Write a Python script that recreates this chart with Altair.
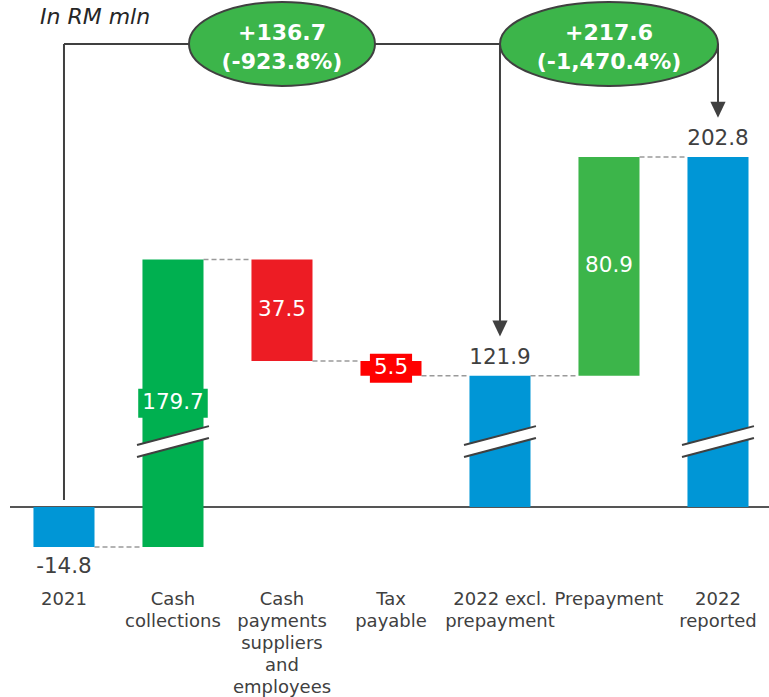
import altair as alt
import pandas as pd

# ---------------- data ----------------
CATEGORIES = ["2021", "Cash collections", "Cash payments suppliers and employees",
              "Tax payable", "2022 excl. prepayment", "Prepayment", "2022 reported"]
AXIS_LABELS = ["2021", "Cash\ncollections", "Cash\npayments\nsuppliers\nand\nemployees",
               "Tax\npayable", "2022 excl.\nprepayment", "Prepayment", "2022\nreported"]
VALUES = [-14.8, 179.7, -37.5, -5.5, 121.9, 80.9, 202.8]
KINDS = ["total", "delta", "delta", "delta", "total", "delta", "total"]
BAR_COLORS = ["#0096D6", "#00B050", "#ED1C24", "#FF0000", "#0096D6", "#3CB54A", "#0096D6"]
LABEL_BOXED = [False, True, False, True, False, False, False]

BRIDGE_FROM = 0
BRIDGE_TO = [4, 6]
BRIDGE_CHANGE = ["+136.7", "+217.6"]
BRIDGE_PCT = ["(-923.8%)", "(-1,470.4%)"]
UNIT_TITLE = "In RM mln"

# ---------------- layout / style ----------------
W, H = 769, 697
X_DOMAIN = [-0.587, 6.468]
Y_DOMAIN = [-70.24, 187.43]
PX_X = W / (X_DOMAIN[1] - X_DOMAIN[0])
PX_Y = H / (Y_DOMAIN[1] - Y_DOMAIN[0])
BAR_HALF = 0.28
BREAK_FROM = 50.0     # values above this are drawn with the axis break
BREAK_CUT = 73.4      # amount removed by the axis break
BREAK_Y = 24.2
BREAK_RISE = 3.5
BREAK_GAP = 2.2
BREAK_HALF = 0.33
TOP_LEVEL = 171.2
ARROW_GAP = 17.5
ELLIPSE_RX = [93, 109]
ELLIPSE_RY = 42
FONT = "DejaVu Sans"
DARK = "#404040"
VAL_SIZE = 21.5


def disp(v):
    return v - BREAK_CUT if v > BREAK_FROM else v


rows = []
running = 0.0
for i, (c, v, k) in enumerate(zip(CATEGORIES, VALUES, KINDS)):
    if k == "total":
        start, end = 0.0, v
        pos = "above" if v >= 0 else "below"
        txt = f"{v:.1f}"
    else:
        start, end = running, running + v
        pos = "inside"
        txt = f"{abs(v):.1f}"
    running = end
    d0, d1 = disp(start), disp(end)
    ndig = sum(ch.isdigit() for ch in txt)
    box_half = (VAL_SIZE * (0.636 * ndig + 0.318) + 8) / 2 / PX_X
    mid = (d0 + d1) / 2
    rows.append(dict(idx=i, cat=c, label=AXIS_LABELS[i], color=BAR_COLORS[i],
                     start=start, end=end,
                     x0=i - BAR_HALF, x1=i + BAR_HALF, y0=d0, y1=d1,
                     ymid=mid, yend=d1, text=txt, pos=pos,
                     boxed=LABEL_BOXED[i],
                     bx0=i - box_half, bx1=i + box_half,
                     by0=mid - 14.5 / PX_Y, by1=mid + 14.5 / PX_Y,
                     spans=min(start, end) < BREAK_FROM < max(start, end)))
df = pd.DataFrame(rows)

# dashed level connectors between consecutive bars
dash = pd.DataFrame([dict(x0=i + BAR_HALF, x1=i + 1 - BAR_HALF, y=df.loc[i, "yend"])
                     for i in range(len(df) - 1)])

# axis-break marks
brk = df[df["spans"]].copy()
brk["bx0"] = brk["idx"] - BREAK_HALF
brk["bx1"] = brk["idx"] + BREAK_HALF
brk["c0"] = BREAK_Y - BREAK_RISE
brk["c1"] = BREAK_Y + BREAK_RISE
brk["u0"] = brk["c0"] + BREAK_GAP
brk["u1"] = brk["c1"] + BREAK_GAP
brk["l0"] = brk["c0"] - BREAK_GAP
brk["l1"] = brk["c1"] - BREAK_GAP

# bridge connectors, arrows and ellipses
anchor_top = max(df.loc[BRIDGE_FROM, "y0"], df.loc[BRIDGE_FROM, "y1"]) + 2.6
segs = [dict(sx0=BRIDGE_FROM, sx1=BRIDGE_FROM, sy0=anchor_top, sy1=TOP_LEVEL),
        dict(sx0=BRIDGE_FROM, sx1=BRIDGE_TO[0], sy0=TOP_LEVEL, sy1=TOP_LEVEL)]
arrows = []
for t in BRIDGE_TO:
    tip = df.loc[t, "yend"] + ARROW_GAP
    segs.append(dict(sx0=t, sx1=t, sy0=TOP_LEVEL, sy1=tip))
    arrows.append(dict(ax=t, ay=tip))
segs = pd.DataFrame(segs)
arrows = pd.DataFrame(arrows)


def ellipse_path(r):
    k = 0.5523
    return (f"M-1,0C-1,{-k*r:.4f},{-k:.4f},{-r:.4f},0,{-r:.4f}"
            f"C{k:.4f},{-r:.4f},1,{-k*r:.4f},1,0"
            f"C1,{k*r:.4f},{k:.4f},{r:.4f},0,{r:.4f}"
            f"C{-k:.4f},{r:.4f},-1,{k*r:.4f},-1,0Z")


ell = []
prev = BRIDGE_FROM
for j, t in enumerate(BRIDGE_TO):
    rx = ELLIPSE_RX[j]
    ell.append(dict(ex=(prev + t) / 2, ey=TOP_LEVEL,
                    etext=BRIDGE_CHANGE[j] + "\n" + BRIDGE_PCT[j],
                    shape=ellipse_path(ELLIPSE_RY / rx), size=(2 * rx) ** 2))
    prev = t
ell = pd.DataFrame(ell)

xs = alt.Scale(domain=X_DOMAIN, nice=False, zero=False)
ys = alt.Scale(domain=Y_DOMAIN, nice=False, zero=False)


def X(f):
    return alt.X(f"{f}:Q", scale=xs, axis=None)


def Y(f):
    return alt.Y(f"{f}:Q", scale=ys, axis=None)


base = alt.Chart(df)

baseline = alt.Chart(pd.DataFrame({"z": [0.0]})).mark_rule(color="#555555", strokeWidth=2).encode(
    y=Y("z"), x=alt.value(10), x2=alt.value(W))

dashed = alt.Chart(dash).mark_rule(color="#9a9a9a", strokeWidth=1.5, strokeDash=[5, 3]).encode(
    x=X("x0"), x2="x1", y=Y("y"))

conn = alt.Chart(segs).mark_rule(color=DARK, strokeWidth=2).encode(
    x=X("sx0"), x2="sx1", y=Y("sy0"), y2="sy1")

arrow = alt.Chart(arrows).mark_point(
    shape="M-0.95,-1L0.95,-1L0,1Z", size=256, filled=True, color=DARK, opacity=1
).encode(x=X("ax"), y=Y("ay"))

bars = base.mark_rect().encode(
    x=X("x0"), x2="x1", y=Y("y0"), y2="y1",
    color=alt.Color("color:N", scale=None))

band = alt.Chart(brk).mark_rule(color="white", strokeWidth=11).encode(
    x=X("bx0"), x2="bx1", y=Y("c0"), y2="c1")
bline_u = alt.Chart(brk).mark_rule(color=DARK, strokeWidth=2).encode(
    x=X("bx0"), x2="bx1", y=Y("u0"), y2="u1")
bline_l = alt.Chart(brk).mark_rule(color=DARK, strokeWidth=2).encode(
    x=X("bx0"), x2="bx1", y=Y("l0"), y2="l1")

boxes = base.transform_filter("datum.boxed").mark_rect().encode(
    x=X("bx0"), x2="bx1", y=Y("by0"), y2="by1",
    color=alt.Color("color:N", scale=None))

txt_kw = dict(font=FONT, fontSize=VAL_SIZE, baseline="middle", align="center")
lab_above = base.transform_filter("datum.pos == 'above'").mark_text(
    color=DARK, dy=-18, **txt_kw).encode(x=X("idx"), y=Y("yend"), text="text:N")
lab_below = base.transform_filter("datum.pos == 'below'").mark_text(
    color=DARK, dy=20, **txt_kw).encode(x=X("idx"), y=Y("yend"), text="text:N")
lab_in = base.transform_filter("datum.pos == 'inside'").mark_text(
    color="white", **txt_kw).encode(x=X("idx"), y=Y("ymid"), text="text:N")

ellipses = alt.Chart(ell).mark_point(
    filled=True, fill="#3CB54A", stroke=DARK, strokeWidth=2, opacity=1
).encode(x=X("ex"), y=Y("ey"),
         shape=alt.Shape("shape:N", scale=None),
         size=alt.Size("size:Q", scale=None))
ell_text = alt.Chart(ell).mark_text(
    font=FONT, fontSize=22, fontWeight="bold", color="white", lineBreak="\n",
    lineHeight=29, baseline="middle", align="center", dy=-11
).encode(x=X("ex"), y=Y("ey"), text="etext:N")

cat_labels = base.mark_text(
    font=FONT, fontSize=18, color=DARK, lineBreak="\n", lineHeight=22,
    baseline="alphabetic", align="center"
).encode(x=X("idx"), y=alt.value(605), text="label:N")

title = alt.Chart(pd.DataFrame({"t": [UNIT_TITLE]})).mark_text(
    font=FONT, fontSize=22, fontStyle="italic", color="#262626",
    align="left", baseline="middle"
).encode(x=alt.value(40), y=alt.value(17), text="t:N")

chart = alt.layer(
    baseline, dashed, conn, arrow, bars, band, bline_u, bline_l,
    boxes, lab_above, lab_below, lab_in, ellipses, ell_text, cat_labels, title
).properties(
    width=W, height=H, padding=0,
    autosize=alt.AutoSizeParams(type="none"), background="white"
).configure_view(stroke=None)

chart.save("out.html", embed_options={"renderer": "svg", "actions": False})
